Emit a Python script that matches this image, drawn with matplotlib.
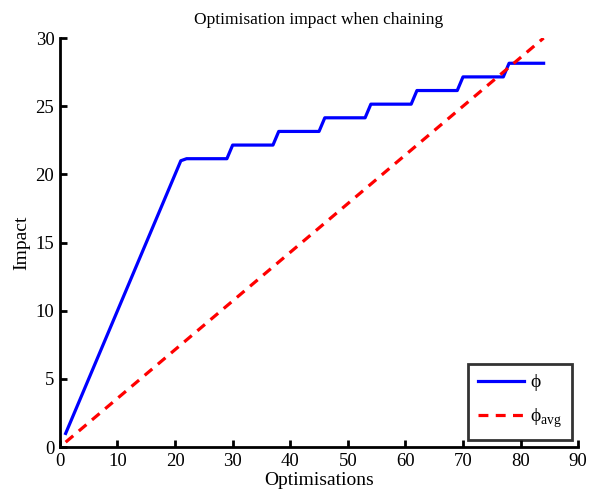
import matplotlib
matplotlib.use("Agg")
import matplotlib.pyplot as plt

# blue curve breakpoints
phi_x = [1, 21, 22, 29, 30, 37, 38, 45, 46, 53, 54, 61, 62, 69, 70, 77, 78, 84]
phi_y = [1, 21, 21.15, 21.15, 22.15, 22.15, 23.15, 23.15, 24.15, 24.15,
         25.15, 25.15, 26.15, 26.15, 27.15, 27.15, 28.15, 28.15]
# red dashed average line
avg_x = [1, 84]
avg_y = [0.36, 30]

x_ticks = [0, 10, 20, 30, 40, 50, 60, 70, 80, 90]
y_ticks = [0, 5, 10, 15, 20, 25, 30]

plt.rcParams['font.family'] = ['Liberation Serif', 'DejaVu Serif']
plt.rcParams['mathtext.fontset'] = 'custom'
plt.rcParams['mathtext.rm'] = 'Liberation Serif'

fig = plt.figure(figsize=(5.93, 4.94), dpi=100)
ax = fig.add_axes([0.101, 0.095, 0.874, 0.828])

ax.plot(phi_x, phi_y, color='#0000ff', lw=2.3, label='\u03d5')
ax.plot(avg_x, avg_y, color='#ff0000', lw=2.3, ls=(0, (3.1, 2.3)),
        label='$\\mathrm{\u03d5}_{\\mathrm{avg}}$')

ax.set_xlim(0, 90)
ax.set_ylim(0, 30)
ax.set_xticks(x_ticks)
ax.set_yticks(y_ticks)
for s in ['top', 'right']:
    ax.spines[s].set_visible(False)
for s in ['left', 'bottom']:
    ax.spines[s].set_linewidth(2)
ax.tick_params(direction='in', width=2, length=5, labelsize=13.5, pad=4)

ax.set_title('Optimisation impact when chaining', fontsize=12.5, pad=10)
ax.set_xlabel('Optimisations', fontsize=14, labelpad=2)
ax.set_ylabel('Impact', fontsize=14, labelpad=4)

leg = ax.legend(loc='lower right', fontsize=14, fancybox=False,
                edgecolor='black', handlelength=2.4, handletextpad=0.3,
                labelspacing=0.8, borderpad=0.5, borderaxespad=0,
                bbox_to_anchor=(0.988, 0.017))
leg.get_frame().set_linewidth(2)

fig.savefig('out.png', dpi=100)
